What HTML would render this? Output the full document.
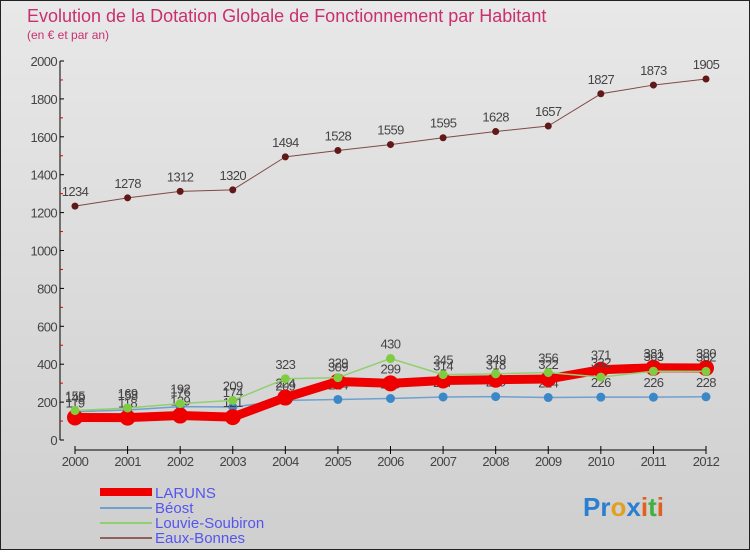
<!DOCTYPE html>
<html><head><meta charset="utf-8"><style>
body{margin:0;width:750px;height:550px;overflow:hidden;font-family:"Liberation Sans",sans-serif}
</style></head><body>
<svg width="750" height="550" xmlns="http://www.w3.org/2000/svg" id="chart">
<defs><linearGradient id="bg" x1="0" y1="0" x2="0" y2="1"><stop offset="0" stop-color="#e8e8e8"/><stop offset="1" stop-color="#cfcfcf"/></linearGradient></defs>
<rect x="0.5" y="0.5" width="749" height="549" fill="url(#bg)" stroke="#222"/>
<text x="27" y="22" font-size="18" fill="#c8306e">Evolution de la Dotation Globale de Fonctionnement par Habitant</text>
<text x="27" y="39" font-size="12" fill="#c8306e">(en € et par an)</text>
<g id="axes"></g><g id="series"></g>
<g>
<rect x="100" y="488" width="52" height="8" fill="#ee0000"/>
<text x="155" y="498" font-size="15" fill="#5555ee">LARUNS</text>
<line x1="100" y1="508" x2="152" y2="508" stroke="#6fa0d0" stroke-width="2"/>
<text x="155" y="513" font-size="15" fill="#5555ee">Béost</text>
<line x1="100" y1="523" x2="152" y2="523" stroke="#90d070" stroke-width="2"/>
<text x="155" y="528" font-size="15" fill="#5555ee">Louvie-Soubiron</text>
<line x1="100" y1="538" x2="152" y2="538" stroke="#906060" stroke-width="2"/>
<text x="155" y="543" font-size="15" fill="#5555ee">Eaux-Bonnes</text>
</g>
<text x="583" y="516" font-size="26" font-weight="bold"><tspan fill="#2a7fd0">Pr</tspan><tspan fill="#e0a020">o</tspan><tspan fill="#2a7fd0">x</tspan><tspan fill="#e06020">i</tspan><tspan fill="#40b040">t</tspan><tspan fill="#e06020">i</tspan></text>
</svg>
<script>
const years=[2000,2001,2002,2003,2004,2005,2006,2007,2008,2009,2010,2011,2012];
const yTicks=[0,200,400,600,800,1000,1200,1400,1600,1800,2000];
const laruns=[119,118,129,121,224,309,299,314,318,322,371,381,380];
const beost=[149,158,176,174,209,214,219,227,229,224,226,226,228];
const louvie=[155,169,192,209,323,329,430,345,349,356,332,363,362];
const eauxBonnes=[1234,1278,1312,1320,1494,1528,1559,1595,1628,1657,1827,1873,1905];
const NS="http://www.w3.org/2000/svg";
const xs=i=>75+i*(706-75)/(years.length-1);
const ys=v=>440-v*(440-61)/2000;
function mk(t,a,p){const e=document.createElementNS(NS,t);for(const k in a)e.setAttribute(k,a[k]);p.appendChild(e);return e;}
const ax=document.getElementById('axes');
const yl=mk('line',{x1:60,y1:61,x2:60,y2:440,stroke:'#000'},ax);


const xl=mk('line',{x1:75,y1:450,x2:706,y2:450,stroke:'#000'},ax);


yTicks.forEach(v=>{
  mk('line',{x1:60,y1:ys(v),x2:64,y2:ys(v),stroke:'#000'},ax);
  if(v<2000) mk('line',{x1:60,y1:ys(v+100),x2:63,y2:ys(v+100),stroke:'#d00'},ax);
  const t=mk('text',{x:57,y:ys(v)+5,'font-size':13,'text-anchor':'end',fill:'#444','letter-spacing':'-0.6'},ax);
  t.textContent=v;
  
  
});
years.forEach((y,i)=>{
  mk('line',{x1:xs(i),y1:446,x2:xs(i),y2:454,stroke:'#000'},ax);
  const t=mk('text',{x:xs(i),y:466,'font-size':13,'text-anchor':'middle',fill:'#444','letter-spacing':'-0.6'},ax);
  t.textContent=y;
  
  
});
const sg=document.getElementById('series');
function series(vals,name,color,w,r,dot,labelOff){
  const g=mk('g',{},sg);
  
  
  const p=mk('polyline',{points:vals.map((v,i)=>xs(i)+','+ys(v)).join(' '),fill:'none',stroke:color,'stroke-width':w,'stroke-linejoin':'round'},g);
  
  
  vals.forEach((v,i)=>{
    const c=mk('circle',{cx:xs(i),cy:ys(v),r:r,fill:dot},g);
    
    
    const t=mk('text',{x:xs(i),y:ys(v)+labelOff,'font-size':13,'text-anchor':'middle',fill:'#444','letter-spacing':'-0.6'},g);
    t.textContent=v;
    
    
  });
}
series(eauxBonnes,'eaux-bonnes','#804848',1,3.5,'#601818',-10);
series(beost,'beost','#6fa0d0',1.5,4.5,'#3a88c8',-10);
series(laruns,'laruns','#ee0000',9,8,'#ee0000',-10);
series(louvie,'louvie-soubiron','#90d070',1.5,4.5,'#80cc40',-10);
</script>
</body></html>
